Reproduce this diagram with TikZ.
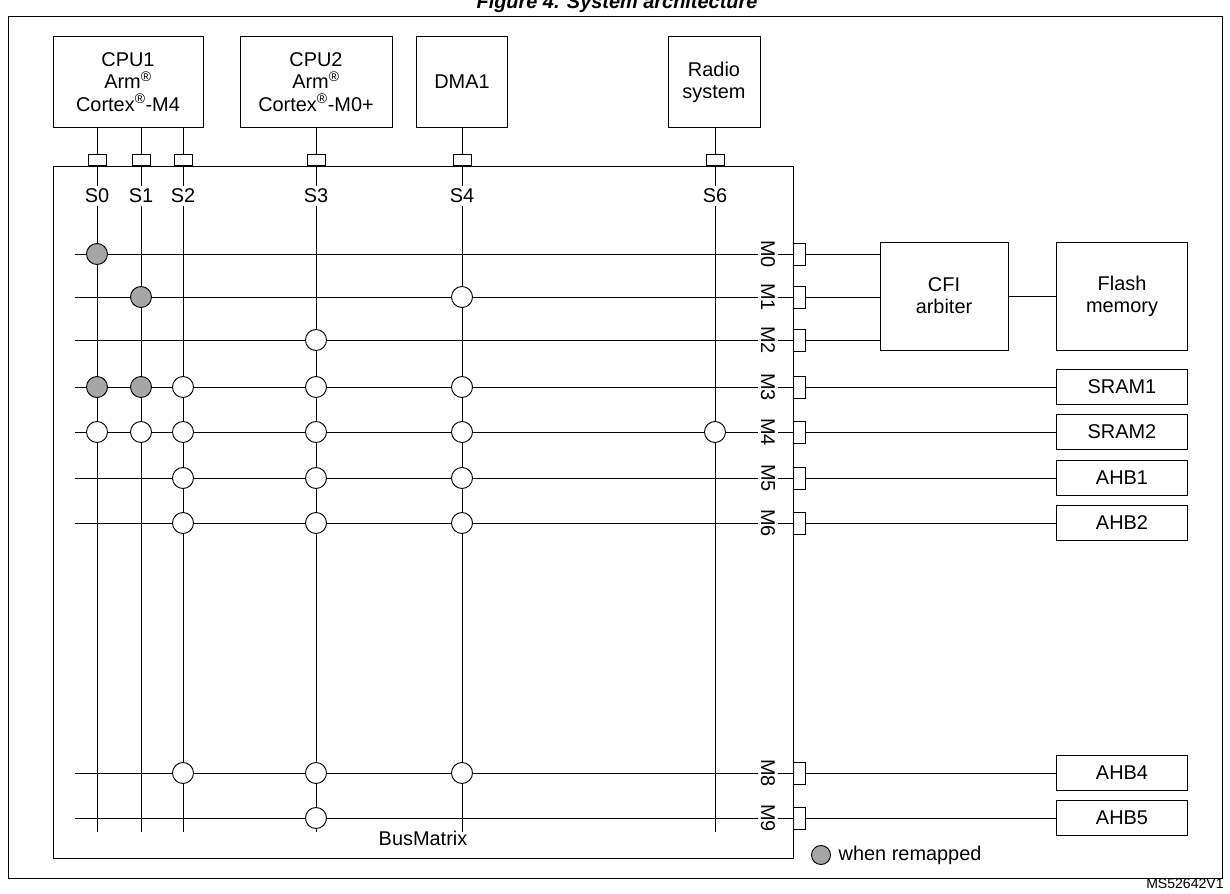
\documentclass[tikz,border=0pt]{standalone}
\usepackage{fontspec}
\setmainfont{Liberation Sans}
\usetikzlibrary{positioning}
\tikzset{
    unit/.style={
           rectangle,
           draw=black, thick,
           inner sep=0pt,
           align=center,
           font=\fontsize{17}{19}\selectfont,
           },
}
\tikzset{
    port/.style={
           rectangle,
           draw=black, thick,
           fill=white,
           inner sep=0pt,
           },
}
\tikzset{
    hit/.style={
           circle,
           draw=black, thick,
           fill=white,
           minimum size=0.63cm,
           inner sep=0pt,
           },
}
\tikzset{
    remap/.style={
           hit,
           fill=gray!70,
           },
}
\newcommand{\regm}{\textsuperscript{\textregistered}}
\begin{document}
\begin{tikzpicture}[x=0.03cm,y=-0.03cm,thick]
\useasboundingbox (0,0) rectangle (1230,893);
\node[font=\bfseries\itshape\fontsize{17}{19}\selectfont] (title) at (617,3) {Figure 4. System architecture};
\draw (8,16) rectangle (1222,878);
% masters
\node[unit,minimum width=4.5cm,minimum height=2.73cm] (CPU1) at (128,82) {CPU1\\Arm\regm\\Cortex\regm-M4};
\node[unit,minimum width=4.56cm,minimum height=2.73cm] (CPU2) at (316,82) {CPU2\\Arm\regm\\Cortex\regm-M0+};
\node[unit,minimum width=2.73cm,minimum height=2.73cm] (DMA) at (462,82) {DMA1};
\node[unit,minimum width=2.76cm,minimum height=2.73cm] (RAD) at (714,82) {Radio\\system};
\node[unit,minimum width=22.2cm,minimum height=20.76cm,anchor=north west] (BM) at (53,166) {};
\node[font=\fontsize{17}{19}\selectfont] (BMl) at (423,838) {BusMatrix};
% slave columns
\foreach \n/\x/\m in {0/97/CPU1,1/141/CPU1,2/183/CPU1,3/316/CPU2,4/462/DMA,6/715/RAD}{
  \coordinate (c\n) at (\x,128);
  \coordinate (b\n) at (\x,832);
  \node[font=\fontsize{17}{19}\selectfont,inner sep=2pt] (s\n) at (\x,196) {S\n};
  \draw (c\n) -- (s\n.north);
  \draw (s\n.south) -- (b\n);
  \node[port,minimum width=0.54cm,minimum height=0.33cm,anchor=south] (p\n) at (\x,166) {};
}
% master rows
\foreach \n/\y in {0/254,1/297,2/340,3/387,4/432,5/478,6/523,8/773,9/818}{
  \coordinate (r\n) at (75,\y);
  \node[rotate=-90,font=\fontsize{17}{19}\selectfont,inner sep=2pt] (m\n) at (768,\y) {M\n};
  \node[port,minimum width=0.36cm,minimum height=0.66cm,anchor=west] (q\n) at (793,\y) {};
  \draw (r\n) -- (m\n.south);
  \draw (m\n.north) -- (q\n.west);
}
% crossings
\foreach \s/\r in {0/0,1/1,0/3,1/3}
  \node[remap] (g\s\r) at (c\s |- r\r) {};
\foreach \s/\r in {4/1,3/2,2/3,3/3,4/3,0/4,1/4,2/4,3/4,4/4,6/4,2/5,3/5,4/5,2/6,3/6,4/6,2/8,3/8,4/8,3/9}
  \node[hit] (h\s\r) at (c\s |- r\r) {};
% slaves
\node[unit,minimum width=3.84cm,minimum height=3.24cm] (CFI) at (944,296) {CFI\\arbiter};
\node[unit,minimum width=3.93cm,minimum height=3.24cm] (FL) at (1122,296) {Flash\\memory};
\foreach \n in {0,1,2}
  \draw (q\n.east) -- (q\n.east -| CFI.west);
\draw (CFI) -- (FL);
\foreach \n/\t in {3/SRAM1,4/SRAM2,5/AHB1,6/AHB2,8/AHB4,9/AHB5}{
  \node[unit,minimum width=3.93cm,minimum height=1.05cm] (t\n) at (1122,0 |- q\n) {\t};
  \draw (q\n.east) -- (t\n.west);
}
% legend
\node[remap,minimum size=0.57cm] (lg) at (821,855) {};
\node[right=0.1cm of lg,font=\fontsize{17}{19}\selectfont] (lgt) {when remapped};
\node[anchor=east,font=\fontsize{12}{14}\selectfont] (ref) at (1228,884) {MS52642V1};
\end{tikzpicture}
\end{document}
